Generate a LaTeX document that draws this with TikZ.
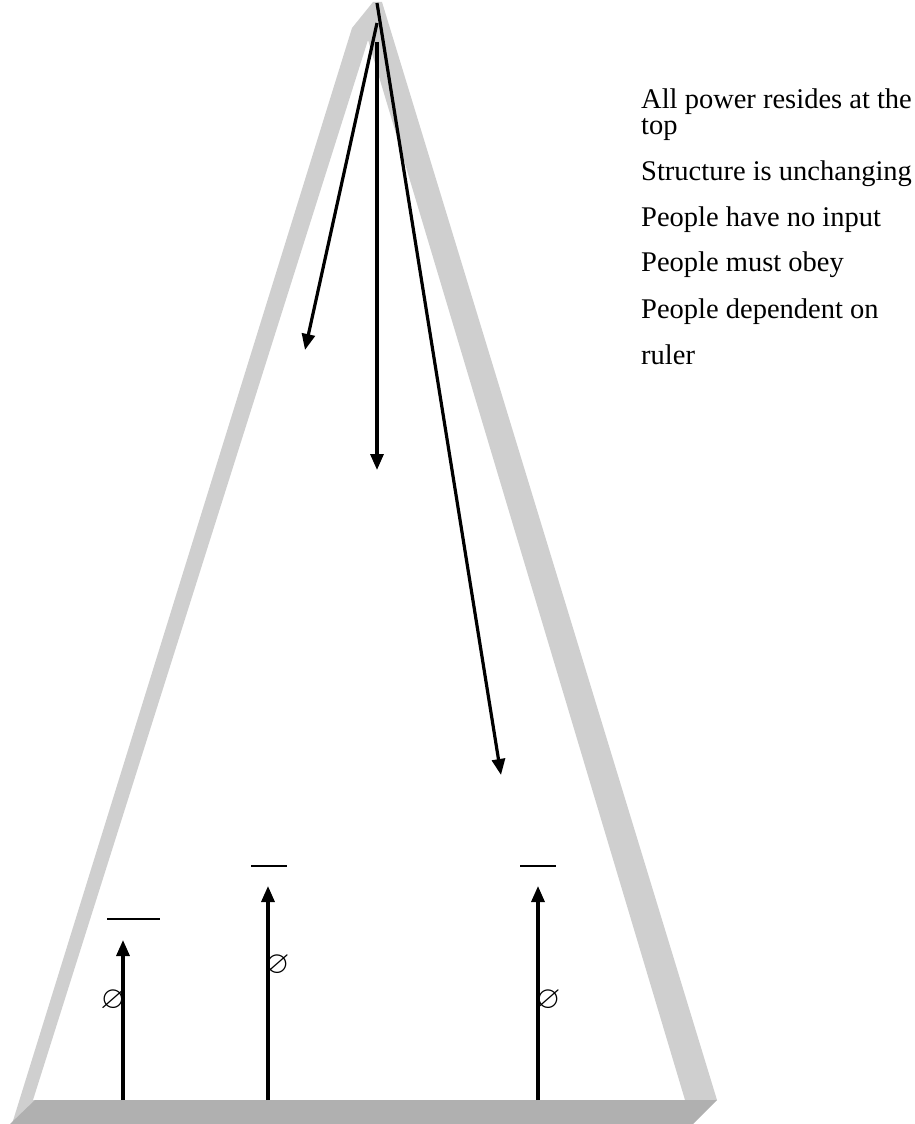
\documentclass[tikz,border=0pt]{standalone}
\usepackage{amssymb}
\usepackage{fontspec}
\setmainfont{Liberation Serif}
\usetikzlibrary{arrows.meta}

\tikzset{
  band/.style={fill=gray!38},
  basebar/.style={fill=gray!62},
  power/.style={line width=3.2pt, -{Triangle[length=16pt,width=13pt]}},
  topbar/.style={line width=1.4pt},
  claim/.style={anchor=base west, inner sep=0pt, font=\fontsize{28.5}{30}\selectfont},
  nullset/.style={inner sep=0pt, font=\fontsize{32}{32}\selectfont}
}

\begin{document}
\begin{tikzpicture}[x=1pt,y=-1pt]
    \useasboundingbox (0,0) rectangle (915,1124);
    % pyramid walls and floor
    \fill[band, even odd rule] (12,1124) -- (352,28) -- (373,2) -- (382,2) -- (717,1100) -- cycle
        (33,1100) -- (368,40) -- (685,1100) -- cycle;
    \fill[basebar] (35,1100) -- (717,1100) -- (693,1124) -- (10,1124) -- cycle;

    % orders from the top
    \coordinate (apex) at (377,3);
    \coordinate (apexl) at (377,23);
    \coordinate (apexm) at (377,42);
    \coordinate (downl) at (305,350);
    \coordinate (downm) at (377,470);
    \coordinate (downr) at (501,775);
    \draw[power] (apex) -- (downr);
    \draw[power] (apexl) -- (downl);
    \draw[power] (apexm) -- (downm);

    % no say from below
    \foreach \n/\x/\t/\bl/\br/\b/\ox/\oy in {1/123/940/107/160/919/113/1000,
            2/268/886/251/287/866/277/965, 3/538/886/520/556/866/548/1000} {
        \coordinate (foot\n) at (\x,1100);
        \coordinate (tip\n) at (\x,\t);
        \coordinate (capl\n) at (\bl,\b);
        \coordinate (capr\n) at (\br,\b);
        \draw[power] (foot\n) -- (tip\n);
        \draw[topbar] (capl\n) -- (capr\n);
        \node[nullset] (none\n) at (\ox,\oy) {$\varnothing$};
    }

    \node[claim] (power) at (641,108) {All power resides at the};
    \node[claim] (powertop) at (641,134) {top};
    \node[claim] (fixed) at (641,180) {Structure is unchanging};
    \node[claim] (noinput) at (641,226) {People have no input};
    \node[claim] (obey) at (641,271) {People must obey};
    \node[claim] (depend) at (641,318) {People dependent on};
    \node[claim] (ruler) at (641,364) {ruler};
\end{tikzpicture}
\end{document}
